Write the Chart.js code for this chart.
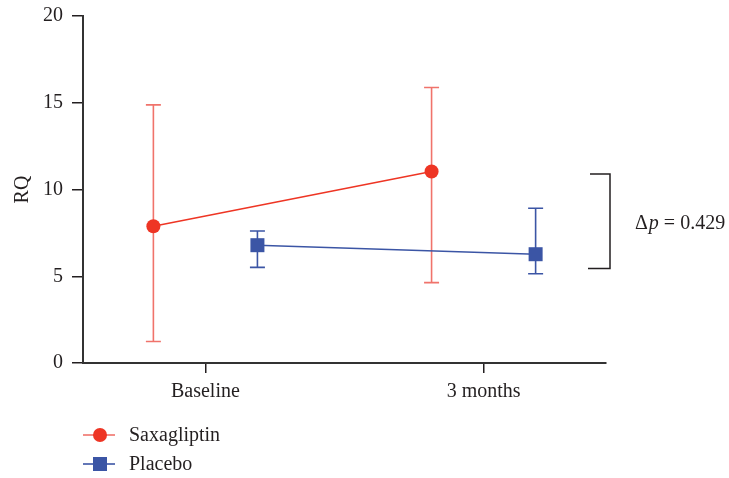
<!DOCTYPE html>
<html>
<head>
<meta charset="utf-8">
<style>
  html, body { margin: 0; padding: 0; background: #ffffff; }
  #wrap { width: 729px; height: 478px; }
</style>
<script src="https://cdn.jsdelivr.net/npm/chart.js@4/dist/chart.umd.min.js"></script>
</head>
<body>
<div id="wrap"><canvas id="chart" width="729" height="478"></canvas></div>
<script>
// Time points and RQ values (mean with error bar limits)
const categories = ['Baseline', '3 months'];
const seriesNames = ['Saxagliptin', 'Placebo'];
const saxMean = [7.88, 11.04];
const saxUpper = [14.88, 15.88];
const saxLower = [1.24, 4.63];
const placeboMean = [6.79, 6.27];
const placeboUpper = [7.61, 8.92];
const placeboLower = [5.51, 5.14];
const yTicks = [0, 5, 10, 15, 20];
const deltaLabel = '0.429';

// Horizontal dodge of each group around its time point
const DODGE = 0.187;
const FONT = '"Liberation Serif", "DejaVu Serif", serif';
const FONT_SIZE = 20;
const INK = '#231f20';
const RED = '#ee3524';
const RED_BAR = '#f0736b';
const BLUE = '#3b55a5';

function pts(means, shift, lower, upper) {
  return means.map((m, i) => ({ x: i + shift, y: m, lo: lower[i], hi: upper[i] }));
}

// Vertical error bars with caps, drawn under the markers
const errorBars = {
  id: 'errorBars',
  beforeDatasetsDraw(chart) {
    const { ctx, scales: { x, y } } = chart;
    chart.data.datasets.forEach(ds => {
      ctx.save();
      ctx.strokeStyle = ds.errorColor;
      ctx.lineWidth = 1.6;
      ds.data.forEach(p => {
        const px = x.getPixelForValue(p.x);
        const top = y.getPixelForValue(p.hi);
        const bot = y.getPixelForValue(p.lo);
        ctx.beginPath();
        ctx.moveTo(px, top); ctx.lineTo(px, bot);
        ctx.moveTo(px - 7.5, top); ctx.lineTo(px + 7.5, top);
        ctx.moveTo(px - 7.5, bot); ctx.lineTo(px + 7.5, bot);
        ctx.stroke();
      });
      ctx.restore();
    });
  }
};

// Significance bracket at the right of the plot
const bracket = {
  id: 'bracket',
  afterDraw(chart) {
    const { ctx, chartArea, scales: { y } } = chart;
    const xr = chartArea.right + 4;
    const yt = y.getPixelForValue(10.9);
    const yb = y.getPixelForValue(5.45);
    ctx.save();
    ctx.strokeStyle = INK;
    ctx.lineWidth = 1.5;
    ctx.beginPath();
    ctx.moveTo(xr - 20, yt); ctx.lineTo(xr, yt); ctx.lineTo(xr, yb); ctx.lineTo(xr - 22, yb);
    ctx.stroke();
    const ty = (yt + yb) / 2 + 3;
    ctx.fillStyle = INK;
    ctx.textBaseline = 'middle';
    ctx.textAlign = 'left';
    let tx = xr + 25;
    ctx.font = FONT_SIZE + 'px ' + FONT;
    ctx.fillText('\u0394', tx, ty);
    tx += ctx.measureText('\u0394').width + 1;
    ctx.font = 'italic ' + FONT_SIZE + 'px ' + FONT;
    ctx.fillText('p', tx, ty);
    tx += ctx.measureText('p').width;
    ctx.font = FONT_SIZE + 'px ' + FONT;
    ctx.fillText(' = ' + deltaLabel, tx, ty);
    ctx.restore();
  }
};

// Legend stacked under the x axis
const legendRows = {
  id: 'legendRows',
  afterDraw(chart) {
    const { ctx, chartArea } = chart;
    const x0 = chartArea.left;
    chart.data.datasets.forEach((ds, i) => {
      const yy = 435 + i * 29;
      ctx.save();
      ctx.strokeStyle = ds.errorColor;
      ctx.lineWidth = 1.6;
      ctx.beginPath();
      ctx.moveTo(x0, yy); ctx.lineTo(x0 + 32, yy);
      ctx.stroke();
      ctx.fillStyle = ds.pointBackgroundColor;
      if (ds.pointStyle === 'circle') {
        ctx.beginPath();
        ctx.arc(x0 + 17, yy, 7, 0, Math.PI * 2);
        ctx.fill();
      } else {
        ctx.fillRect(x0 + 10, yy - 7, 14, 14);
      }
      ctx.fillStyle = INK;
      ctx.font = FONT_SIZE + 'px ' + FONT;
      ctx.textBaseline = 'middle';
      ctx.fillText(ds.label, x0 + 46, yy + 1);
      ctx.restore();
    });
  }
};

new Chart(document.getElementById('chart'), {
  type: 'line',
  data: {
    datasets: [
      {
        label: seriesNames[0],
        data: pts(saxMean, -DODGE, saxLower, saxUpper),
        borderColor: RED,
        borderWidth: 1.5,
        pointStyle: 'circle',
        pointRadius: 7,
        pointBackgroundColor: RED,
        pointBorderWidth: 0,
        errorColor: RED_BAR
      },
      {
        label: seriesNames[1],
        data: pts(placeboMean, DODGE, placeboLower, placeboUpper),
        borderColor: BLUE,
        borderWidth: 1.5,
        pointStyle: 'rect',
        pointRadius: 9.9,
        pointBackgroundColor: BLUE,
        pointBorderWidth: 0,
        errorColor: BLUE
      }
    ]
  },
  options: {
    responsive: false,
    animation: false,
    events: [],
    layout: { padding: { left: 0, top: 16, right: 123, bottom: 0 } },
    plugins: { legend: { display: false }, tooltip: { enabled: false } },
    scales: {
      x: {
        type: 'linear',
        min: -0.44,
        max: 1.44,
        afterBuildTicks(scale) { scale.ticks = categories.map((_, i) => ({ value: i })); },
        afterFit(scale) { scale.height = 115; },
        ticks: {
          callback: v => categories[v],
          color: INK,
          font: { family: FONT, size: FONT_SIZE },
          padding: 7,
          maxRotation: 0
        },
        grid: { drawOnChartArea: false, drawTicks: true, tickLength: 10, color: INK, lineWidth: 1.5 },
        border: { display: true, color: '#333', width: 2 }
      },
      y: {
        min: 0,
        max: 20,
        afterBuildTicks(scale) { scale.ticks = yTicks.map(v => ({ value: v })); },
        afterFit(scale) { scale.width = 83; scale.paddingTop = 0; scale.paddingBottom = 0; },
        ticks: {
          color: INK,
          font: { family: FONT, size: FONT_SIZE },
          padding: 9
        },
        grid: { drawOnChartArea: false, drawTicks: true, tickLength: 11, color: INK, lineWidth: 1.5 },
        border: { display: true, color: '#333', width: 2 },
        title: {
          display: true,
          text: 'RQ',
          color: INK,
          font: { family: FONT, size: FONT_SIZE },
          padding: { top: 11, bottom: 0 }
        }
      }
    }
  },
  plugins: [errorBars, bracket, legendRows]
});
</script>
</body>
</html>
